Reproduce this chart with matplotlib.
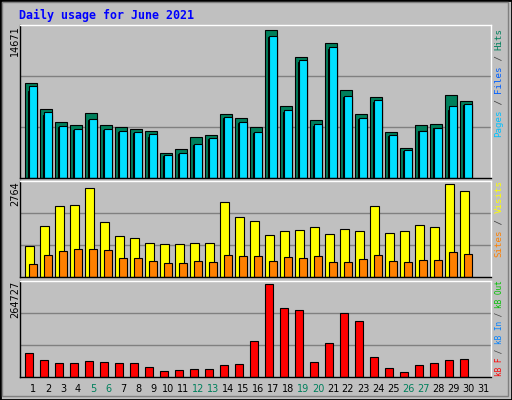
import matplotlib
matplotlib.use("Agg")
import matplotlib.pyplot as plt
from matplotlib.patches import Rectangle

days = list(range(1, 32))
hits = [9105, 6595, 5341, 5051, 6209, 5051, 4858, 4665, 4472, 2349, 2735, 3893, 4086, 6113, 5727,
        4858, 14220, 6885, 11614, 5534, 12965, 8429, 6113, 7753, 4375, 2863, 5051, 5148, 7946, 7367]
files = [8300, 6016, 4858, 4568, 5534, 4568, 4375, 4279, 3893, 2059, 2252, 3121, 3700, 5727, 5244,
         4279, 13512, 6305, 11131, 4954, 12386, 7753, 5630, 7271, 3989, 2541, 4472, 4761, 6498, 6981]
pages = [8815, 6305, 4954, 4665, 5630, 4665, 4472, 4375, 4182, 2155, 2348, 3217, 3796, 5823, 5340,
         4375, 13640, 6498, 11324, 5147, 12578, 7850, 5726, 7463, 4086, 2638, 4472, 4761, 6884, 7077]
visits = [902, 1449, 2025, 2054, 2543, 1564, 1161, 1104, 988, 931, 931, 988, 988, 2140, 1708,
          1593, 1190, 1305, 1334, 1420, 1219, 1363, 1305, 2025, 1248, 1305, 1478, 1420, 2658, 2457]
sites = [384, 643, 758, 816, 816, 787, 557, 557, 470, 413, 413, 470, 441, 643, 614,
         614, 470, 585, 557, 614, 441, 441, 528, 643, 470, 441, 499, 499, 729, 672]
kbytes = [65022, 45516, 37156, 37156, 42729, 39943, 37156, 37156, 28796, 17649, 20436, 23222, 23222, 31583, 34369,
          98463, 254519, 190424, 184851, 39943, 92890, 176491, 154197, 53876, 26009, 14862, 31583, 37156, 45516, 48303]
max_hits = 14671
max_visits = 2764
max_kb = 264727
weekends = [5, 6, 12, 13, 19, 20, 26, 27]
title = "Daily usage for June 2021"

W, H = 512, 400
fig = plt.figure(figsize=(5.12, 4.0), dpi=100, facecolor="#c0c0c0")
mono = "DejaVu Sans Mono"

def fr(x0, y0, x1, y1):
    return [x0 / W, 1 - y1 / H, (x1 - x0) / W, (y1 - y0) / H]

xl = (0.247, 31.65)
def mkax(box, ymax):
    ax = fig.add_axes(fr(*box))
    ax.set_facecolor("#c0c0c0")
    ax.set_xlim(*xl)
    ax.set_ylim(0, ymax)
    ax.set_xticks([]); ax.set_yticks([])
    for s in ax.spines.values():
        s.set_color("black"); s.set_linewidth(1)
    ax.spines["top"].set_color("white")
    ax.spines["right"].set_color("white")
    for f in (1/3, 2/3):
        ax.axhline(ymax * f, color="#808080", lw=1, zorder=0)
    return ax

n = len(hits)
x = days[:n]
ec = dict(edgecolor="black", linewidth=0.8, align="edge")

ax1 = mkax((20, 25, 491, 177.5), max_hits * 1.0)
ax1.bar([d - 0.4 for d in x], hits, width=0.76, color="#00805c", **ec)
ax1.bar([d - 0.2 for d in x], files, width=0.56, color="#0040ff", **ec)
ax1.bar([d - 0.13 for d in x], pages, width=0.49, color="#00e0ff", **ec)

ax2 = mkax((20, 180.5, 491, 277), max_visits * 1.0)
ax2.bar([d - 0.4 for d in x], visits, width=0.56, color="#ffff00", **ec)
ax2.bar([d - 0.13 for d in x], sites, width=0.49, color="#ff8000", **ec)

ax3 = mkax((20, 280.5, 491, 377), max_kb * 1.0)
ax3.bar([d - 0.4 for d in x], kbytes, width=0.49, color="#ff0000", **ec)

fig.text(19 / W, 1 - 15 / H, title, color="#0000ff", fontsize=8.4, fontweight="bold",
         family=mono, va="center", ha="left")

for ypx, lab in [(25, str(max_hits)), (181, str(max_visits)), (281, str(max_kb))]:
    fig.text(15 / W, 1 - ypx / H, lab, rotation=90, fontsize=7, va="top", ha="center", family="DejaVu Sans")

def rlabel(ybot, parts, fs, cw):
    y = ybot
    for t, c in parts:
        fig.text(499 / W, 1 - y / H, t, rotation=90, color=c, fontsize=fs, family=mono,
                 va="bottom", ha="center")
        y -= cw * len(t)

rlabel(137, [("Pages", "#00c0ff"), (" / ", "#404040"), ("Files", "#0060ff"), (" / ", "#404040"), ("Hits", "#00805c")], 6.6, 5.45)
rlabel(257, [("Sites", "#ff8000"), (" / ", "#404040"), ("Visits", "#ffff00")], 6.6, 5.45)
rlabel(376, [("kB F", "#ff0000"), (" / ", "#404040"), ("kB In", "#0080ff"), (" / ", "#404040"), ("kB Out", "#00c000")], 5.6, 4.55)

for d in days:
    px = 16.3 + 15 * (d - 1) + 16.7
    fig.text(px / W, 1 - 389 / H, str(d), fontsize=7, ha="center", va="center",
             color="#00805c" if d in weekends else "black")

fig.patches.append(Rectangle((0, 0), 1, 1, transform=fig.transFigure, fill=False,
                             edgecolor="black", linewidth=2))
fig.patches.append(Rectangle((2 / W, 4 / H), 1 - 6 / W, 1 - 6 / H, transform=fig.transFigure, fill=False,
                             edgecolor="#808080", linewidth=1))
fig.savefig("out.png", dpi=100, facecolor="#c0c0c0")
